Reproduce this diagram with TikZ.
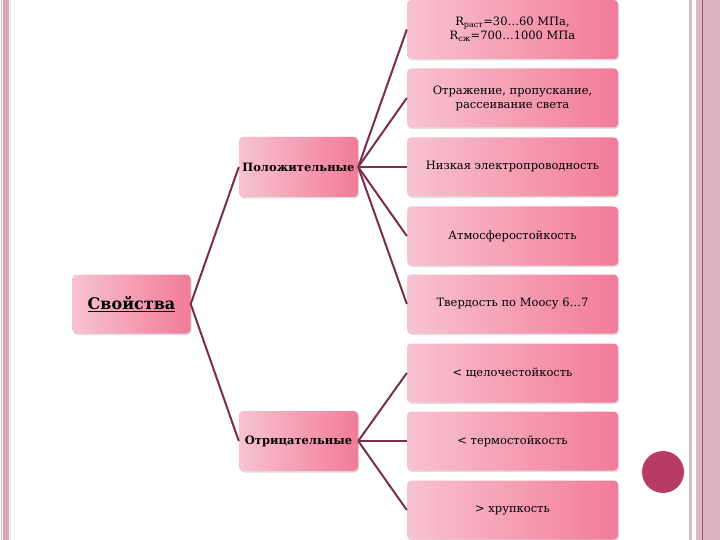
\documentclass[tikz,border=0pt]{standalone}
\usepackage{fontspec}
\setmainfont{DejaVu Serif}
\usetikzlibrary{shadows}
\definecolor{boxL}{HTML}{F7C3D0}
\definecolor{boxR}{HTML}{F27B98}
\definecolor{conn}{HTML}{7A2E4A}
\definecolor{bandL}{HTML}{D9A6B9}
\definecolor{bandR}{HTML}{DCB3C2}
\definecolor{lineR}{HTML}{A0506E}
\definecolor{thinL}{HTML}{D6BCC8}
\definecolor{dotc}{HTML}{B83B64}
\begin{document}
\begin{tikzpicture}[x=1pt,y=-1pt,
  box/.style={draw=none, rounded corners=4pt, left color=boxL, right color=boxR,
    drop shadow={opacity=0.25, shadow xshift=1pt, shadow yshift=-1.5pt},
    align=center, inner sep=2pt},
  leaf/.style={box, minimum width=211pt, minimum height=59pt, font=\fontsize{11.5}{14}\selectfont},
  midbox/.style={box, minimum width=119pt, minimum height=60pt, font=\bfseries\fontsize{11.5}{14}\selectfont},
  rootbox/.style={box, minimum width=118pt, minimum height=59pt, font=\bfseries\fontsize{16}{19}\selectfont},
  link/.style={draw=conn, line width=2pt}]
\useasboundingbox (0,0) rectangle (720,540);
\fill[white] (0,0) rectangle (720,540);
% borders
\fill[thinL] (1,0) rectangle (2,540);
\fill[bandL] (3,0) rectangle (9,540);
\fill[thinL!50] (10,0) rectangle (11,540);
\fill[thinL!35] (13.5,0) rectangle (14.5,540);
\fill[thinL] (689,0) rectangle (691.5,540);
\fill[thinL] (696,0) rectangle (697.5,540);
\fill[bandR] (698,0) rectangle (720,540);
\fill[lineR] (701.8,0) rectangle (703,540);
% nodes
\node[rootbox] (root) at (131.5,304) {\underline{Свойства}};
\node[midbox] (pos) at (298.5,167) {Положительные};
\node[midbox] (neg) at (298.5,441) {Отрицательные};
\node[leaf] (l1) at (512.5,29.5) {R\textsubscript{раст}=30…60 МПа,\\R\textsubscript{сж}=700…1000 МПа};
\node[leaf] (l2) at (512.5,98) {Отражение, пропускание,\\рассеивание света};
\node[leaf] (l3) at (512.5,167) {Низкая электропроводность};
\node[leaf] (l4) at (512.5,236) {Атмосферостойкость};
\node[leaf] (l5) at (512.5,304) {Твердость по Моосу 6…7};
\node[leaf] (l6) at (512.5,373) {< щелочестойкость};
\node[leaf] (l7) at (512.5,441) {< термостойкость};
\node[leaf] (l8) at (512.5,510) {> хрупкость};
% connectors
\draw[link] (root.east) -- (pos.west);
\draw[link] (root.east) -- (neg.west);
\foreach \n in {l1,l2,l3,l4,l5} \draw[link] (pos.east) -- (\n.west);
\foreach \n in {l6,l7,l8} \draw[link] (neg.east) -- (\n.west);
% dot
\fill[dotc] (663,472) circle (21);
\end{tikzpicture}
\end{document}
